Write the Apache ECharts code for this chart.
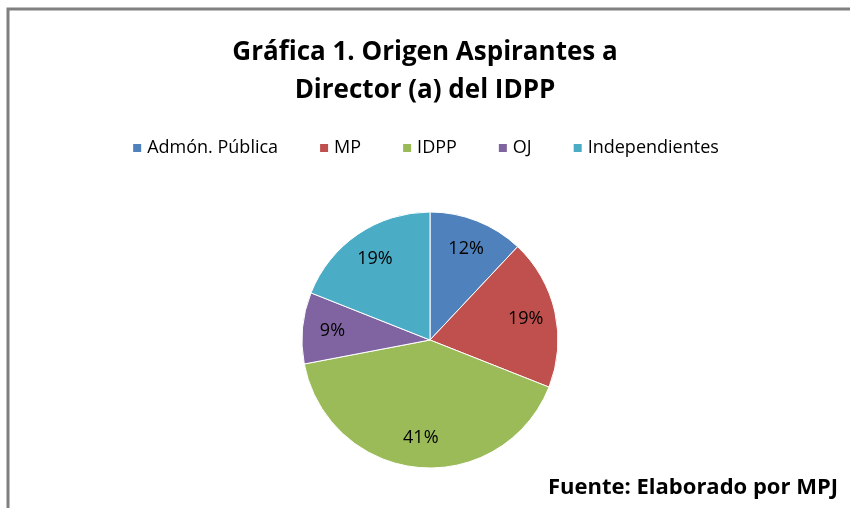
<!DOCTYPE html>
<html>
<head>
<meta charset="utf-8">
<script src="https://cdn.jsdelivr.net/npm/echarts@6/dist/echarts.min.js"></script>
<style>
    html, body { margin: 0; padding: 0; background: #fff; }
    #chart { width: 850px; height: 508px; }
</style>
</head>
<body>
<div id="chart"></div>
<script>
// datos de la gráfica
const categories = ['Admón. Pública', 'MP', 'IDPP', 'OJ', 'Independientes'];
const values = [12, 19, 41, 9, 19];
const colors = ['#4F81BD', '#C0504D', '#9BBB59', '#8064A2', '#4BACC6'];

const font = '"Open Sans", "DejaVu Sans", sans-serif';

const pieData = categories.map((name, i) => ({ name: name, value: values[i] }));

const option = {
    color: colors,
    animation: false,
    title: {
        text: 'Gráfica 1. Origen Aspirantes a\nDirector (a) del IDPP',
        left: 'center',
        top: 29,
        textStyle: {
            fontFamily: font,
            fontSize: 26,
            fontWeight: 'bold',
            color: '#000',
            lineHeight: 38,
        },
    },
    legend: {
        data: categories,
        top: 134,
        left: 'center',
        icon: 'rect',
        itemWidth: 10,
        itemHeight: 10,
        itemGap: 40,
        textStyle: {
            fontFamily: font,
            fontSize: 18,
            color: '#000',
        },
    },
    graphic: [
        {
            type: 'polyline',
            shape: { points: [[852, 9], [8, 9], [8, 510]] },
            style: { stroke: '#808080', lineWidth: 3, fill: null },
        },
        {
            type: 'text',
            right: 12,
            top: 477,
            style: {
                text: 'Fuente: Elaborado por MPJ',
                font: 'bold 22px ' + font,
                fill: '#000',
            },
        },
    ],
    series: [
        {
            type: 'pie',
            center: [430, 340],
            radius: [0, 128],
            startAngle: 90,
            clockwise: true,
            silent: true,
            label: { show: false },
            labelLine: { show: false },
            itemStyle: { borderColor: '#fff', borderWidth: 1 },
            data: pieData,
        },
        {
            // serie transparente solo para ubicar las etiquetas
            type: 'pie',
            center: [430, 340],
            radius: [62, 128],
            startAngle: 90,
            clockwise: true,
            silent: true,
            itemStyle: { color: 'transparent' },
            label: {
                show: true,
                position: 'inside',
                formatter: '{d}%',
                fontFamily: font,
                fontSize: 18,
                color: '#000',
            },
            labelLine: { show: false },
            data: pieData,
        },
    ],
};

let myChart = echarts.init(document.getElementById('chart'));
myChart.setOption(option);
</script>
</body>
</html>
